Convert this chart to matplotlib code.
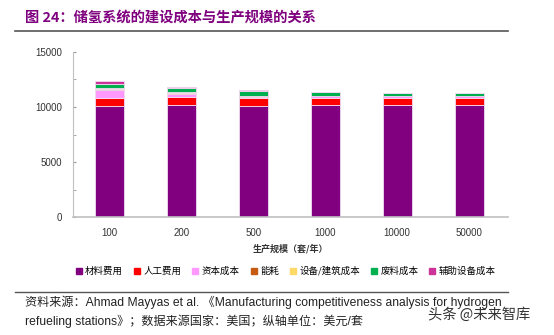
import matplotlib
matplotlib.use("Agg")
import matplotlib.pyplot as plt
from matplotlib.lines import Line2D
import numpy as np

plt.rcParams['font.family'] = ['Liberation Sans', 'Noto Sans CJK SC', 'DejaVu Sans']

categories = ['100', '200', '500', '1000', '10000', '50000']
series_names = ['材料费用', '人工费用', '资本成本', '能耗', '设备/建筑成本', '废料成本', '辅助设备成本']
material = [10120, 10150, 10090, 10150, 10150, 10170]
labor = [670, 790, 700, 640, 660, 660]
capital = [755, 220, 150, 170, 180, 160]
energy = [70, 100, 20, 10, 10, 10]
equipment = [80, 80, 20, 10, 10, 10]
scrap = [420, 420, 490, 380, 250, 270]
auxiliary = [240, 90, 50, 40, 30, 30]
colors = ['#800080', '#FF0000', '#FF99FF', '#C55A11', '#FFD966', '#00B050', '#CC3399']
yticks = [0, 5000, 10000, 15000]

fig = plt.figure(figsize=(5.54, 3.35), dpi=100)
ax = fig.add_axes([0.132, 0.352, 0.785, 0.493])

x = np.arange(len(categories))
bottom = np.zeros(len(categories))
handles = []
for name, vals, c in zip(series_names, [material, labor, capital, energy, equipment, scrap, auxiliary], colors):
    ax.bar(x, vals, 0.4, bottom=bottom, color=c, edgecolor='#f2dcf2', linewidth=0.6, label=name)
    bottom += np.array(vals)
    handles.append(Line2D([], [], marker='s', linestyle='none', color=c, markersize=5, label=name))

ax.set_xlim(-0.5, 5.54)
ax.set_ylim(0, 15000)
ax.set_yticks(yticks)
ax.set_yticks([2500, 7500, 12500], minor=True)
ax.set_xticks(x)
ax.set_xticklabels(categories)
ax.tick_params(axis='y', which='both', direction='in', length=2, color='#999999', labelsize=7, labelcolor='#333333', pad=8)
ax.tick_params(axis='x', length=0, labelsize=7, labelcolor='#333333', pad=8)
for s in ['top', 'right']:
    ax.spines[s].set_visible(False)
ax.spines['left'].set_color('#c0c0c0')
ax.spines['bottom'].set_color('#c0c0c0')
ax.spines['bottom'].set_linewidth(1.2)
ax.set_xlabel('生产规模（套/年）', fontsize=6.5, color='#333333', labelpad=4,
              family=['Noto Sans CJK SC', 'DejaVu Sans'], fontweight='bold')

fig.legend(handles=handles, loc='center', bbox_to_anchor=(0.515, 0.191), ncol=7, frameon=False,
           prop={'family': ['Noto Sans CJK SC', 'DejaVu Sans'], 'size': 6.8},
           handlelength=0.8, handletextpad=0.3, columnspacing=1.05)

fig.text(0.045, 0.945, '图 24：储氢系统的建设成本与生产规模的关系', fontsize=10.3, fontweight='bold',
         color='#7F007F', family=['Noto Sans CJK SC', 'DejaVu Sans'], va='center')
fig.add_artist(Line2D([0.027, 0.917], [0.907, 0.907], color='#555555', linewidth=1.2))
fig.add_artist(Line2D([0.027, 0.917], [0.128, 0.128], color='#555555', linewidth=1.0))

fig.text(0.045, 0.098, '资料来源：Ahmad Mayyas et al. 《Manufacturing competitiveness analysis for hydrogen',
         fontsize=8.7, color='#222222', va='center', family=['Liberation Sans', 'Noto Sans CJK SC'])
fig.text(0.045, 0.042, 'refueling stations》；数据来源国家：美国；纵轴单位：美元/套',
         fontsize=8.7, color='#222222', va='center', family=['Liberation Sans', 'Noto Sans CJK SC'])
fig.text(0.957, 0.060, '头条 @未来智库', fontsize=10.3, color='#333333', ha='right', va='center',
         family=['Noto Sans CJK SC', 'DejaVu Sans'])

fig.savefig('out.png', dpi=100)
